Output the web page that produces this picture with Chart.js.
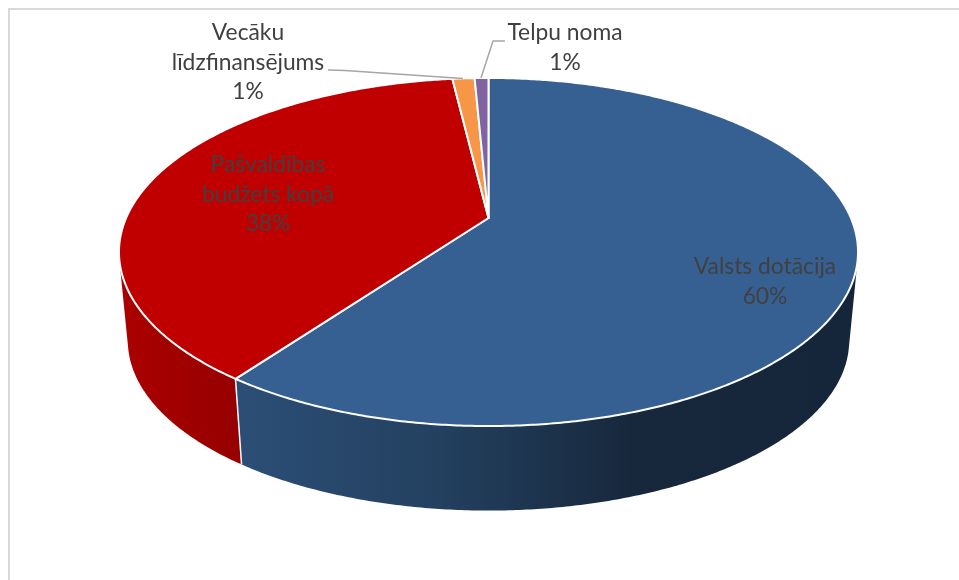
<!DOCTYPE html>
<html>
<head>
<meta charset="utf-8">
<style>
html,body{margin:0;padding:0;background:#fff;}
#wrap{position:absolute;left:0;top:0;width:959px;height:580px;}
canvas{display:block;}
</style>
<script src="https://cdn.jsdelivr.net/npm/chart.js@4"></script>
</head>
<body>
<div id="wrap"><canvas id="c" width="959" height="580"></canvas></div>
<script>
const categories = ["Valsts dotācija", "Pašvaldības budžets kopā", "Vecāku līdzfinansējums", "Telpu noma"];
const shares = [60, 38.1, 1.17, 0.73];
const faceColors = ["#376092", "#c00000", "#f79646", "#8064a2"];
const wallStops = [
  [[0, "#2c4e76"], [0.33, "#23405f"], [0.64, "#17283c"], [1, "#15263a"]],
  [[0, "#ac0000"], [0.5, "#a00000"], [1, "#960000"]],
  [[0, "#c4773a"], [1, "#c4773a"]],
  [[0, "#665082"], [1, "#665082"]]
];
const labelLines = [
  ["Valsts dotācija"],
  ["Pašvaldības", "budžets kopā"],
  ["Vecāku", "līdzfinansējums"],
  ["Telpu noma"]
];

const view = {x0: 488.5, y0: 218, A: 362.4, B: 167.4, k: 0.1954, s: 0.976, D: 89.5};
const labelAnchors = [[765, 267], [268, 165], [248, 33], [565, 33]];
const leaders = [
  null, null,
  [[328, 70], [345, 70.5], [463, 78.5]],
  [[505, 41], [493, 41], [481, 78]]
];

function topPt(a) {
  const u = Math.cos(a), v = Math.sin(a), d = 1 - view.k * v;
  return [view.x0 + view.A * u / d, view.y0 + view.B * v / d];
}
function botPt(a) {
  const p = topPt(a);
  return [view.x0 + view.s * (p[0] - view.x0), view.y0 + view.s * (p[1] - view.y0) + view.D];
}
function arcPts(fn, a0, a1) {
  const n = Math.max(2, Math.ceil(Math.abs(a1 - a0) * 120));
  const out = [];
  for (let i = 0; i <= n; i++) out.push(fn(a0 + (a1 - a0) * i / n));
  return out;
}
function trace(ctx, pts, start) {
  pts.forEach((p, i) => (i === 0 && start) ? ctx.moveTo(p[0], p[1]) : ctx.lineTo(p[0], p[1]));
}

const pie3d = {
  id: "pie3d",
  beforeDatasetDraw(chart, args) {
    const ctx = chart.ctx;
    const arcs = chart.getDatasetMeta(args.index).data;
    ctx.save();
    ctx.lineJoin = "round";
    // side walls: only the part of each slice's rim that faces the viewer
    [2, 3, 1, 0].forEach(i => {
      const el = arcs[i];
      const top = arcPts(topPt, el.startAngle, el.endAngle);
      const bot = arcPts(botPt, el.startAngle, el.endAngle);
      const upper = [], lower = [];
      for (let q = 0; q < top.length - 1; q++) {
        const cross = (top[q + 1][0] - top[q][0]) * (bot[q][1] - top[q][1]) -
                      (top[q + 1][1] - top[q][1]) * (bot[q][0] - top[q][0]);
        if (cross < 0) {
          if (!upper.length) { upper.push(top[q]); lower.push(bot[q]); }
          upper.push(top[q + 1]); lower.push(bot[q + 1]);
        }
      }
      if (upper.length < 2) return;
      const g = ctx.createLinearGradient(i === 1 ? 120 : 240, 0, i === 1 ? 240 : 850, 0);
      wallStops[i].forEach(s => g.addColorStop(s[0], s[1]));
      ctx.beginPath();
      trace(ctx, upper, true);
      trace(ctx, lower.reverse(), false);
      ctx.closePath();
      ctx.fillStyle = g;
      ctx.fill();
    });
    // white seam on the wall between the two big slices
    const seamA = arcs[0].endAngle;
    const s0 = topPt(seamA), s1 = botPt(seamA);
    ctx.beginPath(); ctx.moveTo(s0[0], s0[1]); ctx.lineTo(s1[0], s1[1]);
    ctx.strokeStyle = "#fff"; ctx.lineWidth = 1.5; ctx.stroke();
    // top faces
    arcs.forEach((el, i) => {
      ctx.beginPath();
      ctx.moveTo(view.x0, view.y0);
      trace(ctx, arcPts(topPt, el.startAngle, el.endAngle), false);
      ctx.closePath();
      ctx.fillStyle = faceColors[i];
      ctx.fill();
      ctx.strokeStyle = "#fff";
      ctx.lineWidth = 2;
      ctx.stroke();
    });
    ctx.restore();
    return false;
  },
  afterDatasetsDraw(chart) {
    const ctx = chart.ctx;
    const total = shares.reduce((a, b) => a + b, 0);
    ctx.save();
    leaders.forEach(l => {
      if (!l) return;
      ctx.beginPath();
      trace(ctx, l, true);
      ctx.strokeStyle = "#a6a6a6";
      ctx.lineWidth = 1.5;
      ctx.stroke();
    });
    ctx.font = '22.8px Lato, "Open Sans", sans-serif';
    ctx.fillStyle = "#404040";
    ctx.textAlign = "center";
    ctx.textBaseline = "middle";
    categories.forEach((c, i) => {
      const lines = labelLines[i].concat([Math.round(shares[i] / total * 100) + "%"]);
      lines.forEach((t, j) => ctx.fillText(t, labelAnchors[i][0], labelAnchors[i][1] + j * 29.5));
    });
    ctx.restore();
  }
};

const frame = {
  id: "frame",
  beforeDraw(chart) {
    const ctx = chart.ctx;
    ctx.save();
    ctx.fillStyle = "#fff";
    ctx.fillRect(0, 0, 959, 580);
    ctx.strokeStyle = "#d9d9d9";
    ctx.lineWidth = 2;
    ctx.beginPath();
    ctx.moveTo(9, 580); ctx.lineTo(9, 9); ctx.lineTo(959, 9);
    ctx.stroke();
    ctx.restore();
  }
};

new Chart(document.getElementById("c"), {
  type: "pie",
  data: {labels: categories, datasets: [{data: shares, backgroundColor: faceColors, borderColor: "#fff"}]},
  options: {
    responsive: false,
    animation: false,
    plugins: {legend: {display: false}, tooltip: {enabled: false}, title: {display: false}}
  },
  plugins: [frame, pie3d]
});
</script>
</body>
</html>
